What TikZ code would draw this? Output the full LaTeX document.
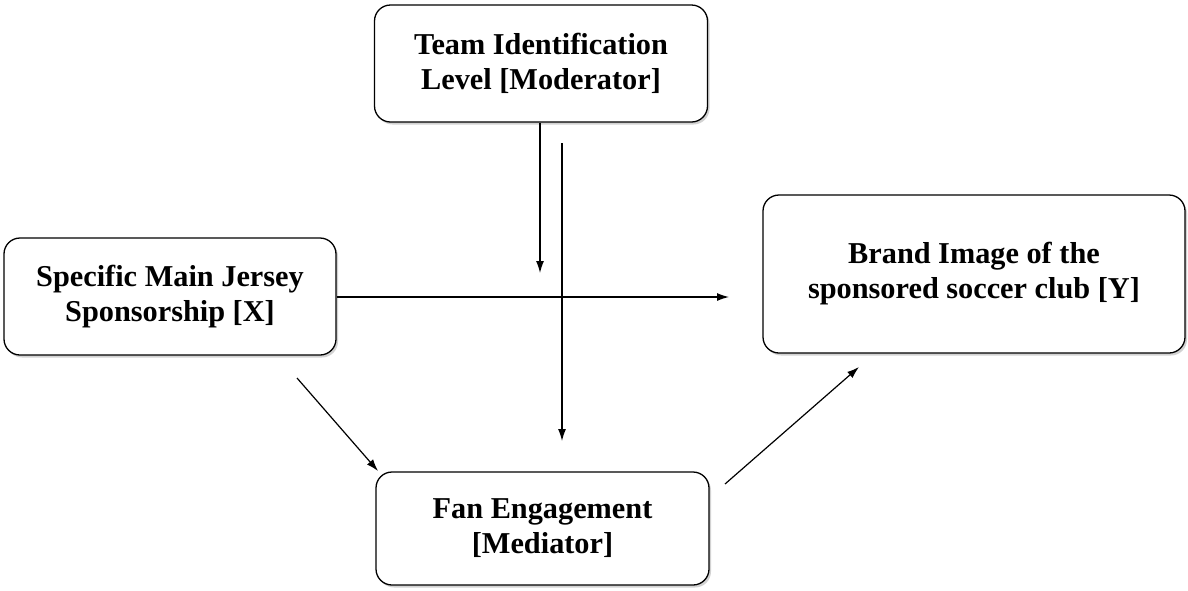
\documentclass[tikz,border=0pt]{standalone}
\usepackage{fontspec}
\setmainfont{Liberation Serif}
\usetikzlibrary{arrows.meta,shadows}
\begin{document}
\begin{tikzpicture}[x=1pt,y=-1pt,
  box/.style={draw=black, line width=1.3pt, rounded corners=16pt, fill=white,
    align=center, inner sep=0pt,
    font=\fontsize{30.3}{35}\selectfont\bfseries,
    drop shadow={opacity=0.35, shadow xshift=2pt, shadow yshift=-2.5pt}},
  conn/.style={line width=1.2pt, -{Latex[length=12pt,width=8pt]}}]
\useasboundingbox[fill=white] (0,0) rectangle (1188,590);
\node[box, minimum width=333pt, minimum height=117pt] (mod) at (541,63.5) {Team Identification\\Level [Moderator]};
\node[box, minimum width=332pt, minimum height=117pt] (x) at (170,296.5) {Specific Main Jersey\\Sponsorship [X]};
\node[box, minimum width=422pt, minimum height=158pt] (y) at (974,274) {Brand Image of the\\sponsored soccer club [Y]};
\node[box, minimum width=333pt, minimum height=113pt] (med) at (542.5,528.5) {Fan Engagement\\{[Mediator]}};
\coordinate (m1s) at (540,122);
\coordinate (m1e) at (540,273);
\coordinate (m2s) at (562,143);
\coordinate (m2e) at (562,441);
\coordinate (xe) at (729,297);
\coordinate (a1s) at (297,378);
\coordinate (a1e) at (378,471);
\coordinate (a2s) at (725,484);
\coordinate (a2e) at (859,367);
\draw[conn] (mod.south -| m1s) -- (m1e);
\draw[conn] (m2s) -- (m2e);
\draw[conn] (x.east |- xe) -- (xe);
\draw[conn] (a1s) -- (a1e);
\draw[conn] (a2s) -- (a2e);
\end{tikzpicture}
\end{document}
